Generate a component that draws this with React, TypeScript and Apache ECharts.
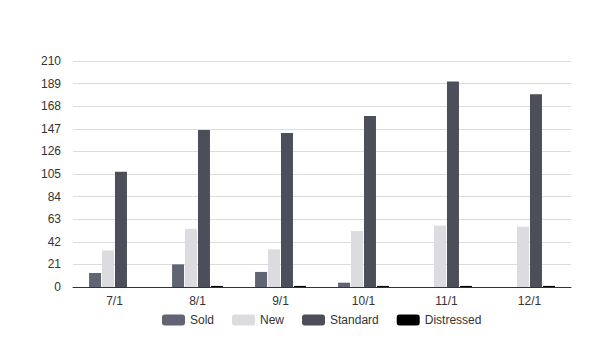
import React, { useEffect, useRef } from "react";
import * as echarts from "echarts";

const categories = ["7/1", "8/1", "9/1", "10/1", "11/1", "12/1"];
const sold = [13, 21, 14, 4, 0, 0];
const newer = [34, 54, 35, 52, 57, 56];
const standard = [107, 146, 143, 159, 191, 179];
const distressed = [0, 1, 1, 1, 1, 1];
const yTicks = { min: 0, max: 210, interval: 21 };

export default function App() {
  const ref = useRef<HTMLDivElement>(null);
  useEffect(() => {
    const chart = echarts.init(ref.current!, null, { renderer: "svg" });
    const font = "Arial, 'Liberation Sans', sans-serif";
    const mk = (name: string, data: number[], color: string) => ({
      name,
      type: "bar",
      data,
      barWidth: 12,
      barGap: "8%",
      itemStyle: { color },
    });
    chart.setOption({
      animation: false,
      textStyle: { fontFamily: font },
      grid: { left: 65, right: 32, top: 53, bottom: 67 },
      legend: {
        bottom: 23,
        left: 149,
        itemWidth: 23,
        itemHeight: 11,
        itemGap: 18,
        textStyle: { fontSize: 12, color: "#333", fontFamily: font },
        data: ["Sold", "New", "Standard", "Distressed"],
      },
      xAxis: {
        type: "category",
        data: categories,
        axisLine: { lineStyle: { color: "#333" } },
        axisTick: { show: false },
        axisLabel: { color: "#333", fontSize: 12, margin: 8 },
      },
      yAxis: {
        type: "value",
        min: yTicks.min,
        max: yTicks.max,
        interval: yTicks.interval,
        axisLine: { show: false },
        axisTick: { show: false },
        axisLabel: { color: "#333", fontSize: 12, margin: 12 },
        splitLine: { lineStyle: { color: "#dcdcdc", width: 1 } },
      },
      series: [
        mk("Sold", sold, "#616473"),
        mk("New", newer, "#dcdce0"),
        mk("Standard", standard, "#4c4f5a"),
        mk("Distressed", distressed, "#000000"),
      ],
    });
    return () => chart.dispose();
  }, []);
  return <div ref={ref} style={{ width: 595, height: 346 }} />;
}
